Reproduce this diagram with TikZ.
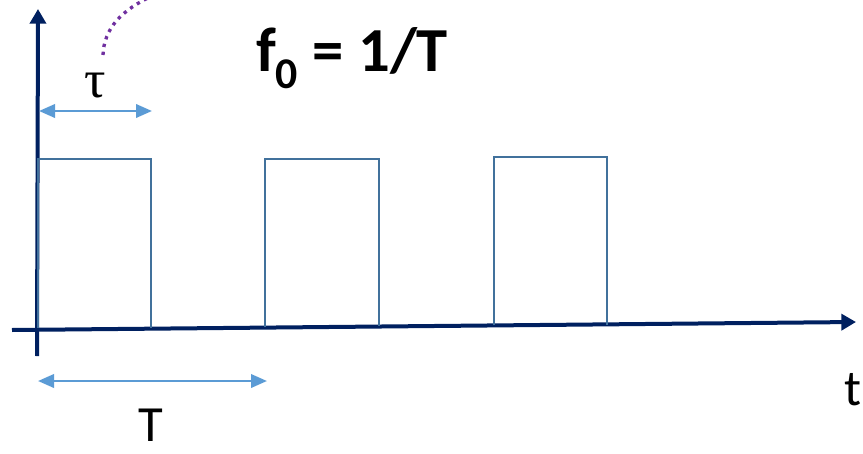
\documentclass[tikz,border=0pt]{standalone}
\usepackage{fontspec}
\setmainfont{Carlito}
\newfontfamily\taufont{Liberation Serif}
\usetikzlibrary{arrows.meta}
\definecolor{axisblue}{HTML}{002060}
\definecolor{pulseblue}{HTML}{41719C}
\definecolor{dimblue}{HTML}{5B9BD5}
\definecolor{dotpurple}{HTML}{7030A0}
\begin{document}
\begin{tikzpicture}[x=0.75pt,y=-0.75pt,
  axisline/.style={draw=axisblue,line width=3pt,-{Triangle[length=11pt,width=12pt]}},
  pulse/.style={draw=pulseblue,line width=1.4pt},
  dimarrow/.style={draw=dimblue,line width=2pt,{Triangle[length=12pt,width=10pt]}-{Triangle[length=12pt,width=10pt]}},
  lbl/.style={inner sep=0pt,text=black}]
\useasboundingbox (0,0) rectangle (863,453);
% axes
\coordinate (yb) at (37,356);
\coordinate (yt) at (38,9);
\coordinate (xl) at (12,330);
\coordinate (xr) at (856,322);
\draw[axisline] (yb) -- (yt);
\draw[axisline] (xl) -- (xr);
% pulses
\draw[pulse] (38,328) -- (38,159) -- (151,159) -- (151,328);
\draw[pulse] (265,327) -- (265,159) -- (379,159) -- (379,326);
\draw[pulse] (494,325) -- (494,157) -- (607,157) -- (607,325);
% tau dimension
\coordinate (ta) at (39,111);
\coordinate (tb) at (152,111);
\draw[dimarrow] (ta) -- (tb);
\node[lbl,font=\taufont\fontsize{40}{40}\selectfont] (tau) at (95,86) {τ};
% T dimension
\coordinate (Ta) at (38,381);
\coordinate (Tb) at (267,381);
\draw[dimarrow] (Ta) -- (Tb);
\node[lbl,font=\fontsize{38}{38}\selectfont] (Tlbl) at (151,425) {T};
% t label
\node[lbl,font=\fontsize{38}{38}\selectfont] (tlbl) at (853,390) {t};
% f0 label
\node[lbl,font=\bfseries\fontsize{47}{47}\selectfont] (f0) at (352,58) {f\textsubscript{0} = 1/T};
% dotted purple curve
\begin{scope}
\clip (0,0) rectangle (863,453);
\draw[dotpurple,line width=2.5pt,dash pattern=on 2.5pt off 3.5pt] (103,55) .. controls (104,28) and (122,10) .. (152,-4);
\end{scope}
\end{tikzpicture}
\end{document}
